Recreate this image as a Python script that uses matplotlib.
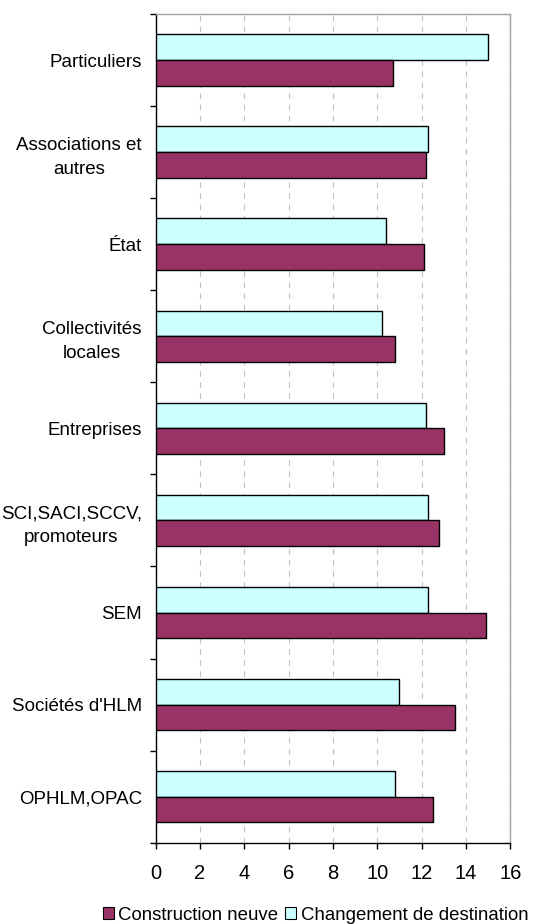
import numpy as np
import matplotlib.pyplot as plt
from matplotlib.patches import Patch

plt.rcParams["font.family"] = ["Liberation Sans", "DejaVu Sans"]

# ── Data (top to bottom) ─────────────────────────────────────────────────────
categories = [
    "Particuliers",
    "Associations et\nautres",
    "État",
    "Collectivités\nlocales",
    "Entreprises",
    "SCI,SACI,SCCV,\npromoteurs",
    "SEM",
    "Sociétés d'HLM",
    "OPHLM,OPAC",
]
construction_neuve = [10.7, 12.2, 12.1, 10.8, 13.0, 12.8, 14.9, 13.5, 12.5]
changement_destination = [15.0, 12.3, 10.4, 10.2, 12.2, 12.3, 12.3, 11.0, 10.8]
x_ticks = [0, 2, 4, 6, 8, 10, 12, 14, 16]

purple = "#993366"
cyan = "#ccffff"

fig = plt.figure(figsize=(5.33, 9.24), dpi=100)
ax = fig.add_axes([0.2921, 0.0880, 0.6653, 0.8968])

pos = np.arange(len(categories))
h = 0.28
ax.barh(pos - h / 2, changement_destination, height=h, color=cyan,
        edgecolor="black", linewidth=1.0, zorder=3)
ax.barh(pos + h / 2, construction_neuve, height=h, color=purple,
        edgecolor="black", linewidth=1.0, zorder=3)

ax.set_xlim(0, 16)
ax.set_ylim(len(categories) - 0.5, -0.5)

# x axis
ax.set_xticks(x_ticks)
ax.set_xticklabels([str(t) for t in x_ticks], fontsize=14.5)
ax.tick_params(axis="x", direction="out", length=4, width=1, pad=11.5,
               color="black")
ax.grid(True, axis="x", color="#c0c0c0", lw=0.8, ls=(0, (5, 5)), zorder=0)

# y axis: labels at centres, tick marks at category boundaries
ax.set_yticks(pos)
ax.set_yticklabels(categories, fontsize=13.5)
for lab in ax.get_yticklabels():
    lab.set_multialignment("center")
    lab.set_linespacing(1.5)
ax.tick_params(axis="y", which="major", length=0, pad=10)
ax.set_yticks(np.arange(len(categories) + 1) - 0.5, minor=True)
ax.tick_params(axis="y", which="minor", direction="out", length=4, width=1,
               color="black")

for side in ["top", "right"]:
    ax.spines[side].set_color("#a0a0a0")
    ax.spines[side].set_linewidth(1.0)
for side in ["left", "bottom"]:
    ax.spines[side].set_color("black")
    ax.spines[side].set_linewidth(1.0)

handles = [
    Patch(facecolor=purple, edgecolor="black", linewidth=0.8,
          label="Construction neuve"),
    Patch(facecolor=cyan, edgecolor="black", linewidth=0.8,
          label="Changement de destination"),
]
fig.legend(handles=handles, loc="center", bbox_to_anchor=(0.592, 0.0095),
           ncol=2, frameon=False, fontsize=13.4, handlelength=0.6,
           handleheight=0.6, handletextpad=0.25, columnspacing=0.35,
           borderpad=0)

fig.savefig("out.png", dpi=100)
